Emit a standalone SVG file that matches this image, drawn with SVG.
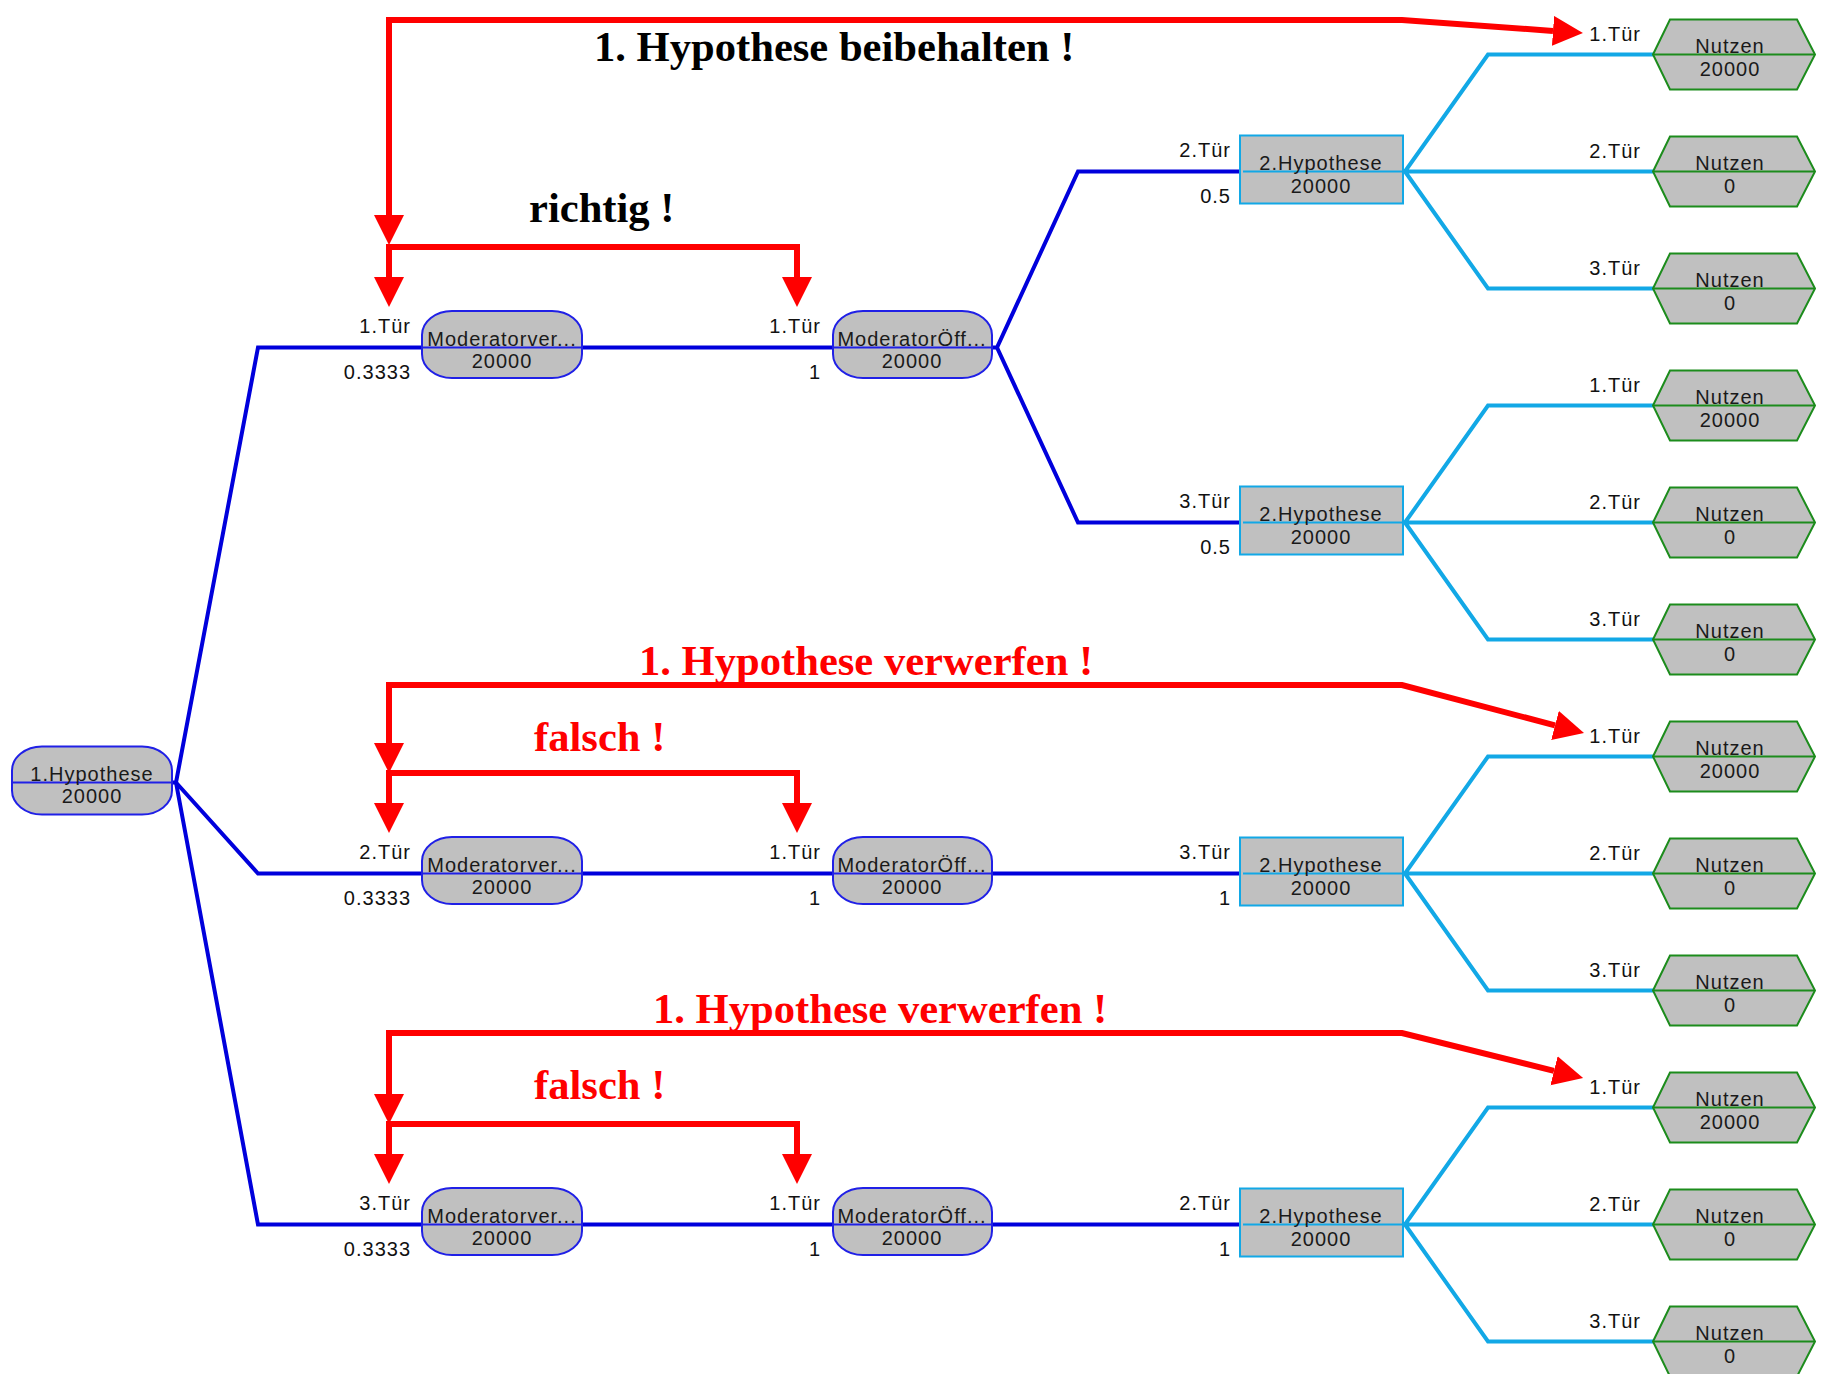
<svg xmlns="http://www.w3.org/2000/svg" width="1834" height="1374" viewBox="0 0 1834 1374">
  <defs>
    <style>
      .bg { fill: #ffffff; }
      .blue { fill: none; stroke: #0000dc; stroke-width: 4; }
      .cyan { fill: none; stroke: #12a8e6; stroke-width: 4; }
      .red { fill: none; stroke: #ff0000; stroke-width: 6; marker-start: url(#head); marker-end: url(#head); }
      .chance { fill: #c0c0c0; stroke: #2020e6; stroke-width: 2; }
      .chance-mid { stroke: #2020e6; stroke-width: 2; }
      .decision { fill: #c0c0c0; stroke: #12a8e6; stroke-width: 2; }
      .decision-mid { stroke: #12a8e6; stroke-width: 2; }
      .payoff { fill: #c0c0c0; stroke: #1c8c1c; stroke-width: 2; }
      .payoff-mid { stroke: #1c8c1c; stroke-width: 2; }
      .nt { font-family: "Liberation Sans", Arial, sans-serif; font-size: 20px; letter-spacing: 1px; fill: #1a1a1a; text-anchor: middle; }
      .lbl { font-family: "Liberation Sans", Arial, sans-serif; font-size: 20px; letter-spacing: 1px; fill: #111111; text-anchor: end; }
      .note { font-family: "Liberation Serif", "Times New Roman", serif; font-size: 42.6px; font-weight: bold; }
      .note-k { fill: #000000; }
      .note-r { fill: #ff0000; }
    </style>
    <marker id="head" markerUnits="userSpaceOnUse" markerWidth="32" markerHeight="32" refX="0" refY="15" orient="auto-start-reverse" viewBox="0 0 32 32">
      <path d="M0,0 L30,15 L0,30 Z" fill="#ff0000"/>
    </marker>
    <polygon id="hex" points="0,0 17,-35 144,-35 162,0 144,35 17,35"/>
  </defs>

  <rect class="bg" x="0" y="0" width="1834" height="1374"/>

  <!-- tree branches -->
  <g id="connectors">
    <!-- root fan -->
    <path class="blue" d="M172,782.5 L176,782.5 L258,347.5 H422"/>
    <path class="blue" d="M176,782.5 L258,873.5 H422"/>
    <path class="blue" d="M176,782.5 L258,1224.5 H422"/>
    <!-- Moderatorver -> ModeratorÖff -->
    <path class="blue" d="M582,347.5 H833"/>
    <path class="blue" d="M582,873.5 H833"/>
    <path class="blue" d="M582,1224.5 H833"/>
    <!-- ModeratorÖff -> 2.Hypothese -->
    <path class="blue" d="M992,347.5 L997,347.5 L1078,171.5 H1243"/>
    <path class="blue" d="M997,347.5 L1078,522.5 H1243"/>
    <path class="blue" d="M992,873.5 H1243"/>
    <path class="blue" d="M992,1224.5 H1243"/>
    <!-- 2.Hypothese -> Nutzen -->
    <path class="cyan" d="M1403,171.5 L1405,171.5 L1488,54.5 H1653 M1405,171.5 H1653 M1405,171.5 L1488,288.5 H1653"/>
    <path class="cyan" d="M1403,522.5 L1405,522.5 L1488,405.5 H1653 M1405,522.5 H1653 M1405,522.5 L1488,639.5 H1653"/>
    <path class="cyan" d="M1403,873.5 L1405,873.5 L1488,756.5 H1653 M1405,873.5 H1653 M1405,873.5 L1488,990.5 H1653"/>
    <path class="cyan" d="M1403,1224.5 L1405,1224.5 L1488,1107.5 H1653 M1405,1224.5 H1653 M1405,1224.5 L1488,1341.5 H1653"/>
  </g>

  <!-- branch labels -->
  <g id="branch-labels">
    <text class="lbl" x="411" y="333">1.Tür</text><text class="lbl" x="411" y="379">0.3333</text>
    <text class="lbl" x="411" y="859">2.Tür</text><text class="lbl" x="411" y="905">0.3333</text>
    <text class="lbl" x="411" y="1210">3.Tür</text><text class="lbl" x="411" y="1256">0.3333</text>

    <text class="lbl" x="821" y="333">1.Tür</text><text class="lbl" x="821" y="379">1</text>
    <text class="lbl" x="821" y="859">1.Tür</text><text class="lbl" x="821" y="905">1</text>
    <text class="lbl" x="821" y="1210">1.Tür</text><text class="lbl" x="821" y="1256">1</text>

    <text class="lbl" x="1231" y="157">2.Tür</text><text class="lbl" x="1231" y="203">0.5</text>
    <text class="lbl" x="1231" y="508">3.Tür</text><text class="lbl" x="1231" y="554">0.5</text>
    <text class="lbl" x="1231" y="859">3.Tür</text><text class="lbl" x="1231" y="905">1</text>
    <text class="lbl" x="1231" y="1210">2.Tür</text><text class="lbl" x="1231" y="1256">1</text>

    <text class="lbl" x="1641" y="41">1.Tür</text>
    <text class="lbl" x="1641" y="158">2.Tür</text>
    <text class="lbl" x="1641" y="275">3.Tür</text>
    <text class="lbl" x="1641" y="392">1.Tür</text>
    <text class="lbl" x="1641" y="509">2.Tür</text>
    <text class="lbl" x="1641" y="626">3.Tür</text>
    <text class="lbl" x="1641" y="743">1.Tür</text>
    <text class="lbl" x="1641" y="860">2.Tür</text>
    <text class="lbl" x="1641" y="977">3.Tür</text>
    <text class="lbl" x="1641" y="1094">1.Tür</text>
    <text class="lbl" x="1641" y="1211">2.Tür</text>
    <text class="lbl" x="1641" y="1328">3.Tür</text>
  </g>

  <!-- root chance node -->
  <g id="hyp1">
    <rect class="chance" x="12" y="746.5" width="160" height="68" rx="30" ry="24"/>
    <line class="chance-mid" x1="12" y1="782.5" x2="172" y2="782.5"/>
    <text class="nt" x="92" y="781">1.Hypothese</text>
    <text class="nt" x="92" y="803">20000</text>
  </g>

  <!-- moderator chance nodes -->
  <g id="modver1">
    <rect class="chance" x="422" y="311" width="160" height="67" rx="30" ry="24"/>
    <line class="chance-mid" x1="422" y1="347.5" x2="582" y2="347.5"/>
    <text class="nt" x="502" y="346">Moderatorver...</text>
    <text class="nt" x="502" y="368">20000</text>
  </g>
  <g id="modver2">
    <rect class="chance" x="422" y="837" width="160" height="67" rx="30" ry="24"/>
    <line class="chance-mid" x1="422" y1="873.5" x2="582" y2="873.5"/>
    <text class="nt" x="502" y="872">Moderatorver...</text>
    <text class="nt" x="502" y="894">20000</text>
  </g>
  <g id="modver3">
    <rect class="chance" x="422" y="1188" width="160" height="67" rx="30" ry="24"/>
    <line class="chance-mid" x1="422" y1="1224.5" x2="582" y2="1224.5"/>
    <text class="nt" x="502" y="1223">Moderatorver...</text>
    <text class="nt" x="502" y="1245">20000</text>
  </g>
  <g id="modoeff1">
    <rect class="chance" x="833" y="311" width="159" height="67" rx="30" ry="24"/>
    <line class="chance-mid" x1="833" y1="347.5" x2="992" y2="347.5"/>
    <text class="nt" x="912" y="346">ModeratorÖff...</text>
    <text class="nt" x="912" y="368">20000</text>
  </g>
  <g id="modoeff2">
    <rect class="chance" x="833" y="837" width="159" height="67" rx="30" ry="24"/>
    <line class="chance-mid" x1="833" y1="873.5" x2="992" y2="873.5"/>
    <text class="nt" x="912" y="872">ModeratorÖff...</text>
    <text class="nt" x="912" y="894">20000</text>
  </g>
  <g id="modoeff3">
    <rect class="chance" x="833" y="1188" width="159" height="67" rx="30" ry="24"/>
    <line class="chance-mid" x1="833" y1="1224.5" x2="992" y2="1224.5"/>
    <text class="nt" x="912" y="1223">ModeratorÖff...</text>
    <text class="nt" x="912" y="1245">20000</text>
  </g>

  <!-- second decision nodes -->
  <g id="hyp2a">
    <rect class="decision" x="1240" y="135.5" width="163" height="68"/>
    <line class="decision-mid" x1="1243" y1="171.5" x2="1403" y2="171.5"/>
    <text class="nt" x="1321" y="170">2.Hypothese</text>
    <text class="nt" x="1321" y="193">20000</text>
  </g>
  <g id="hyp2b">
    <rect class="decision" x="1240" y="486.5" width="163" height="68"/>
    <line class="decision-mid" x1="1243" y1="522.5" x2="1403" y2="522.5"/>
    <text class="nt" x="1321" y="521">2.Hypothese</text>
    <text class="nt" x="1321" y="544">20000</text>
  </g>
  <g id="hyp2c">
    <rect class="decision" x="1240" y="837.5" width="163" height="68"/>
    <line class="decision-mid" x1="1243" y1="873.5" x2="1403" y2="873.5"/>
    <text class="nt" x="1321" y="872">2.Hypothese</text>
    <text class="nt" x="1321" y="895">20000</text>
  </g>
  <g id="hyp2d">
    <rect class="decision" x="1240" y="1188.5" width="163" height="68"/>
    <line class="decision-mid" x1="1243" y1="1224.5" x2="1403" y2="1224.5"/>
    <text class="nt" x="1321" y="1223">2.Hypothese</text>
    <text class="nt" x="1321" y="1246">20000</text>
  </g>

  <!-- payoff nodes -->
  <g id="nutzen1"><use href="#hex" class="payoff" x="1653" y="54.5"/><line class="payoff-mid" x1="1653" y1="54.5" x2="1815" y2="54.5"/><text class="nt" x="1730" y="53">Nutzen</text><text class="nt" x="1730" y="76">20000</text></g>
  <g id="nutzen2"><use href="#hex" class="payoff" x="1653" y="171.5"/><line class="payoff-mid" x1="1653" y1="171.5" x2="1815" y2="171.5"/><text class="nt" x="1730" y="170">Nutzen</text><text class="nt" x="1730" y="193">0</text></g>
  <g id="nutzen3"><use href="#hex" class="payoff" x="1653" y="288.5"/><line class="payoff-mid" x1="1653" y1="288.5" x2="1815" y2="288.5"/><text class="nt" x="1730" y="287">Nutzen</text><text class="nt" x="1730" y="310">0</text></g>
  <g id="nutzen4"><use href="#hex" class="payoff" x="1653" y="405.5"/><line class="payoff-mid" x1="1653" y1="405.5" x2="1815" y2="405.5"/><text class="nt" x="1730" y="404">Nutzen</text><text class="nt" x="1730" y="427">20000</text></g>
  <g id="nutzen5"><use href="#hex" class="payoff" x="1653" y="522.5"/><line class="payoff-mid" x1="1653" y1="522.5" x2="1815" y2="522.5"/><text class="nt" x="1730" y="521">Nutzen</text><text class="nt" x="1730" y="544">0</text></g>
  <g id="nutzen6"><use href="#hex" class="payoff" x="1653" y="639.5"/><line class="payoff-mid" x1="1653" y1="639.5" x2="1815" y2="639.5"/><text class="nt" x="1730" y="638">Nutzen</text><text class="nt" x="1730" y="661">0</text></g>
  <g id="nutzen7"><use href="#hex" class="payoff" x="1653" y="756.5"/><line class="payoff-mid" x1="1653" y1="756.5" x2="1815" y2="756.5"/><text class="nt" x="1730" y="755">Nutzen</text><text class="nt" x="1730" y="778">20000</text></g>
  <g id="nutzen8"><use href="#hex" class="payoff" x="1653" y="873.5"/><line class="payoff-mid" x1="1653" y1="873.5" x2="1815" y2="873.5"/><text class="nt" x="1730" y="872">Nutzen</text><text class="nt" x="1730" y="895">0</text></g>
  <g id="nutzen9"><use href="#hex" class="payoff" x="1653" y="990.5"/><line class="payoff-mid" x1="1653" y1="990.5" x2="1815" y2="990.5"/><text class="nt" x="1730" y="989">Nutzen</text><text class="nt" x="1730" y="1012">0</text></g>
  <g id="nutzen10"><use href="#hex" class="payoff" x="1653" y="1107.5"/><line class="payoff-mid" x1="1653" y1="1107.5" x2="1815" y2="1107.5"/><text class="nt" x="1730" y="1106">Nutzen</text><text class="nt" x="1730" y="1129">20000</text></g>
  <g id="nutzen11"><use href="#hex" class="payoff" x="1653" y="1224.5"/><line class="payoff-mid" x1="1653" y1="1224.5" x2="1815" y2="1224.5"/><text class="nt" x="1730" y="1223">Nutzen</text><text class="nt" x="1730" y="1246">0</text></g>
  <g id="nutzen12"><use href="#hex" class="payoff" x="1653" y="1341.5"/><line class="payoff-mid" x1="1653" y1="1341.5" x2="1815" y2="1341.5"/><text class="nt" x="1730" y="1340">Nutzen</text><text class="nt" x="1730" y="1363">0</text></g>

  <!-- red annotation arrows -->
  <g id="annotations">
    <path class="red" d="M389,215 V20 H1402 L1553,30.9"/>
    <path class="red" d="M389,277 V247 H797 V277"/>
    <path class="red" d="M389,743 V685 H1402 L1555,725.4"/>
    <path class="red" d="M389,803 V773 H797 V803"/>
    <path class="red" d="M389,1094 V1033 H1402 L1554,1070.8"/>
    <path class="red" d="M389,1154 V1124 H797 V1154"/>
  </g>

  <g id="notes">
    <text class="note note-k" x="594" y="61">1. Hypothese beibehalten !</text>
    <text class="note note-k" x="529" y="222">richtig !</text>
    <text class="note note-r" x="639" y="675">1. Hypothese verwerfen !</text>
    <text class="note note-r" x="534" y="751">falsch !</text>
    <text class="note note-r" x="653" y="1023">1. Hypothese verwerfen !</text>
    <text class="note note-r" x="534" y="1099">falsch !</text>
  </g>
</svg>
